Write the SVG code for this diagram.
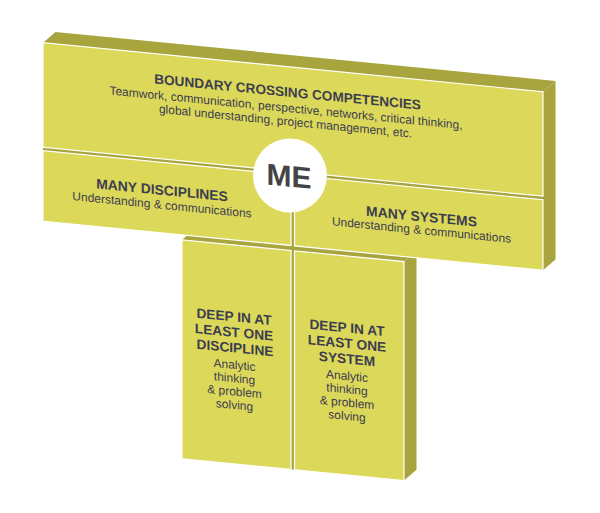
<svg xmlns="http://www.w3.org/2000/svg" width="600" height="513" viewBox="0 0 600 513">
<style>
.front{fill:#dcd95a;stroke:#ffffff;stroke-width:1.2}
.dark{fill:#a9a53e}
.t{font-family:"Liberation Sans",Arial,Helvetica,sans-serif;fill:#3d3d50;text-anchor:middle}
.b{font-weight:bold}
</style>
<rect width="600" height="513" fill="#ffffff"/>
<g transform="matrix(1 0.098 0 1 0 0)">
  <g id="deep-blocks-base">
    <polygon class="dark" points="182,222 404,222 416.5,210 194.5,210"/>
    <polygon class="dark" points="404,222 416.5,210 416.5,429 404,441"/>
    <rect class="dark" x="291" y="143" width="3.5" height="298"/>
  </g>
  <g id="deep-discipline">
    <rect class="front" x="182" y="222" width="109" height="219"/>
    <text class="t b" font-size="13.7" x="234" y="298.5">DEEP IN AT</text>
    <text class="t b" font-size="13.7" x="234" y="314">LEAST ONE</text>
    <text class="t b" font-size="13.7" x="235" y="329.5">DISCIPLINE</text>
    <text class="t" font-size="12" x="234.5" y="346">Analytic</text>
    <text class="t" font-size="12" x="234.5" y="359.3">thinking</text>
    <text class="t" font-size="12" x="234.5" y="372.6">&amp; problem</text>
    <text class="t" font-size="12" x="234.5" y="386">solving</text>
  </g>
  <g id="deep-system">
    <rect class="front" x="294.5" y="222" width="109.5" height="219"/>
    <text class="t b" font-size="13.7" x="347" y="298.5">DEEP IN AT</text>
    <text class="t b" font-size="13.7" x="347" y="314">LEAST ONE</text>
    <text class="t b" font-size="13.7" x="347" y="329.5">SYSTEM</text>
    <text class="t" font-size="12" x="347" y="346">Analytic</text>
    <text class="t" font-size="12" x="347" y="359.3">thinking</text>
    <text class="t" font-size="12" x="347" y="372.6">&amp; problem</text>
    <text class="t" font-size="12" x="347" y="386">solving</text>
  </g>
  <g id="top-block-base">
    <polygon class="dark" points="43,38.5 543,38.5 555.5,26.5 55.5,26.5"/>
    <polygon class="dark" points="543,38.5 555.5,26.5 555.5,205 543,217"/>
    <rect class="dark" x="43" y="143" width="500" height="3.5"/>
    <rect class="dark" x="291" y="146.5" width="3.5" height="70.5"/>
  </g>
  <g id="boundary-crossing">
    <rect class="front" x="43" y="38.5" width="500" height="104.5"/>
    <text class="t b" font-size="13.6" x="287.5" y="68.5">BOUNDARY CROSSING COMPETENCIES</text>
    <text class="t" font-size="12" x="286" y="83.8">Teamwork, communication, perspective, networks, critical thinking,</text>
    <text class="t" font-size="12" x="285.5" y="97.3">global understanding, project management, etc.</text>
  </g>
  <g id="many-disciplines">
    <rect class="front" x="43" y="146.5" width="248" height="70.5"/>
    <text class="t b" font-size="13.9" x="162" y="179">MANY DISCIPLINES</text>
    <text class="t" font-size="12" x="162" y="193">Understanding &amp; communications</text>
  </g>
  <g id="many-systems">
    <rect class="front" x="294.5" y="146.5" width="248.5" height="70.5"/>
    <text class="t b" font-size="13.9" x="421.5" y="180">MANY SYSTEMS</text>
    <text class="t" font-size="12" x="421.5" y="192.8">Understanding &amp; communications</text>
  </g>
</g>
<g id="me">
  <circle cx="290" cy="175.5" r="37" fill="#ffffff"/>
  <text class="b" transform="matrix(1 0.098 0 1 0 0)" x="289" y="158.3" font-family="Liberation Sans,Arial,sans-serif" font-size="30" fill="#444448" text-anchor="middle">ME</text>
</g>
</svg>
